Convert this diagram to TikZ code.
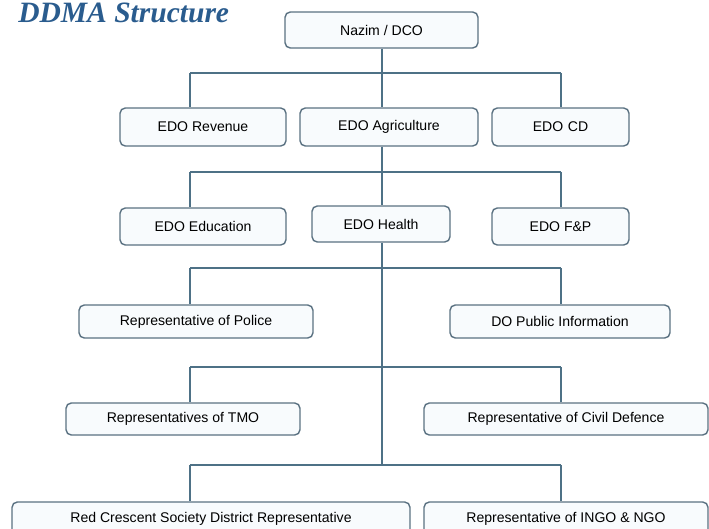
\documentclass[tikz,border=0pt]{standalone}
\usepackage{fontspec}
\setmainfont{Liberation Sans}
\newfontfamily\titlefont{Liberation Serif}
\definecolor{boxline}{HTML}{5B7282}
\definecolor{boxfill}{HTML}{F8FBFD}
\definecolor{wire}{HTML}{4E7186}
\definecolor{titleblue}{HTML}{2A5C8E}
\tikzset{
  unit/.style={draw=boxline, fill=boxfill, line width=0.8pt, rounded corners=3pt,
    inner sep=0pt, font=\fontsize{8}{9}\selectfont},
  wire/.style={draw=wire, line width=0.7pt}
}
\begin{document}
\begin{tikzpicture}[x=0.02cm, y=-0.02cm]
        \useasboundingbox[fill=white] (0,0) rectangle (709,528);
        %titolo
        \node[anchor=base west, inner sep=0pt, text=titleblue,
              font=\titlefont\bfseries\itshape\fontsize{16.8}{18}\selectfont] (title) at (18,22) {DDMA Structure};
        %caselle
        \node[unit, minimum width=3.86cm, minimum height=0.72cm] (nazim) at (381.5,30) {Nazim / DCO};
        \node[unit, minimum width=3.32cm, minimum height=0.76cm] (rev) at (203,127) {EDO Revenue};
        \node[unit, minimum width=3.56cm, minimum height=0.76cm] (agri) at (389,127) {EDO Agriculture};
        \node[unit, minimum width=2.74cm, minimum height=0.76cm] (cd) at (560.5,127) {EDO\,\,CD};
        \node[unit, minimum width=3.32cm, minimum height=0.74cm] (edu) at (203,226.5) {EDO Education};
        \node[unit, minimum width=2.76cm, minimum height=0.72cm] (health) at (381,224) {EDO Health};
        \node[unit, minimum width=2.74cm, minimum height=0.74cm] (fp) at (560.5,226.5) {EDO F\&P};
        \node[unit, minimum width=4.68cm, minimum height=0.66cm] (police) at (196,321.5) {Representative of Police};
        \node[unit, minimum width=4.40cm, minimum height=0.66cm] (dopi) at (560,321.5) {DO Public Information};
        \node[unit, minimum width=4.68cm, minimum height=0.64cm] (tmo) at (183,419) {Representatives of TMO};
        \node[unit, minimum width=5.68cm, minimum height=0.64cm] (civil) at (566,419) {Representative of Civil Defence};
        \node[unit, minimum width=7.96cm, minimum height=0.68cm] (red) at (211,519) {Red Crescent Society District Representative};
        \node[unit, minimum width=5.68cm, minimum height=0.68cm] (ingo) at (566,519) {Representative of INGO \& NGO};
        %linee orizzontali
        \coordinate (l1) at (190,73);  \coordinate (r1) at (561,73);
        \coordinate (l2) at (190,172); \coordinate (r2) at (561,172);
        \coordinate (l3) at (190,268); \coordinate (r3) at (561,268);
        \coordinate (l4) at (190,367); \coordinate (r4) at (561,367);
        \coordinate (l5) at (190,465); \coordinate (r5) at (561,465);
        \coordinate (spine) at (382,465);
        \foreach \i in {1,...,5}
            \draw[wire] (l\i) -- (r\i);
        %asse centrale
        \draw[wire] (nazim.south -| spine) -- (agri.north -| spine);
        \draw[wire] (agri.south -| spine) -- (health.north -| spine);
        \draw[wire] (health.south -| spine) -- (spine);
        %discese
        \draw[wire] (l1) -- (l1 |- rev.north);
        \draw[wire] (r1) -- (r1 |- cd.north);
        \draw[wire] (l2) -- (l2 |- edu.north);
        \draw[wire] (r2) -- (r2 |- fp.north);
        \draw[wire] (l3) -- (l3 |- police.north);
        \draw[wire] (r3) -- (r3 |- dopi.north);
        \draw[wire] (l4) -- (l4 |- tmo.north);
        \draw[wire] (r4) -- (r4 |- civil.north);
        \draw[wire] (l5) -- (l5 |- red.north);
        \draw[wire] (r5) -- (r5 |- ingo.north);
    \end{tikzpicture}
\end{document}
